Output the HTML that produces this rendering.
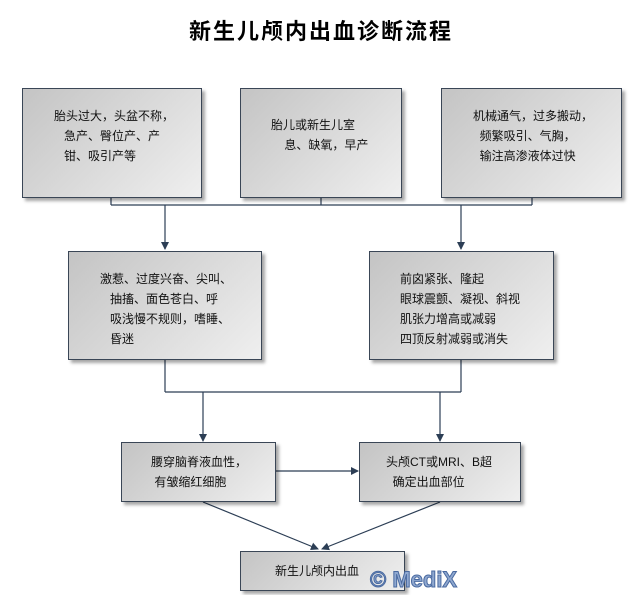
<!DOCTYPE html>
<html><head><meta charset="utf-8"><style>
body{margin:0;width:642px;height:595px;background:#fff;position:relative;overflow:hidden;font-family:"Liberation Sans","Noto Sans CJK SC",sans-serif;}
.t{position:absolute;left:0;width:642px;top:14px;text-align:center;font-size:22px;font-weight:bold;letter-spacing:2px;color:#000;}
.b{position:absolute;box-sizing:border-box;border:1px solid #3a4656;background:linear-gradient(135deg,#c4c4c4,#efefef);box-shadow:3px 3px 3px rgba(0,0,0,.35);font-size:12px;line-height:20px;color:#111;}
.b div{position:absolute;white-space:pre;}
svg{position:absolute;left:0;top:0;}
.w{position:absolute;left:370px;top:567px;font-size:22px;font-weight:bold;color:#8fa8d0;-webkit-text-stroke:1px #4a6aa0;font-family:"Liberation Sans",sans-serif;}
</style></head><body>
<div class="t">新生儿颅内出血诊断流程</div>
<svg width="642" height="595">
<defs><marker id="a" markerWidth="8" markerHeight="10" refX="7" refY="5" orient="auto" markerUnits="userSpaceOnUse"><path d="M0,1 L8,5 L0,9 Z" fill="#2c3e55"/></marker></defs>
<g stroke="#2c3e55" stroke-width="1.2" fill="none">
<path d="M111 198V205M321 198V205M532 198V205M111 205H532"/>
<path d="M165 205V249" marker-end="url(#a)"/>
<path d="M461 205V249" marker-end="url(#a)"/>
<path d="M165 360V392M461 360V392M165 392H461"/>
<path d="M203 392V441" marker-end="url(#a)"/>
<path d="M440 392V441" marker-end="url(#a)"/>
<path d="M276 471H358" marker-end="url(#a)"/>
<path d="M203 502L318 549" marker-end="url(#a)"/>
<path d="M440 502L322 549" marker-end="url(#a)"/>
</g></svg>
<div class="b" style="left:22px;top:88px;width:180px;height:110px"><div style="left:31px;top:17px">胎头过大，头盆不称，
   急产、臀位产、产
   钳、吸引产等</div></div>
<div class="b" style="left:240px;top:88px;width:162px;height:110px"><div style="left:30px;top:26px">胎儿或新生儿室
    息、缺氧，早产</div></div>
<div class="b" style="left:441px;top:88px;width:181px;height:110px"><div style="left:31px;top:17px">机械通气，过多搬动，
  频繁吸引、气胸，
  输注高渗液体过快</div></div>
<div class="b" style="left:68px;top:251px;width:194px;height:109px"><div style="left:31px;top:17px">激惹、过度兴奋、尖叫、
   抽搐、面色苍白、呼
   吸浅慢不规则，嗜睡、
   昏迷</div></div>
<div class="b" style="left:369px;top:251px;width:185px;height:109px"><div style="left:30px;top:17px">前囟紧张、隆起
眼球震颤、凝视、斜视
肌张力增高或减弱
四顶反射减弱或消失</div></div>
<div class="b" style="left:121px;top:442px;width:155px;height:60px"><div style="left:29px;top:9px">腰穿脑脊液血性，
 有皱缩红细胞</div></div>
<div class="b" style="left:359px;top:442px;width:162px;height:60px"><div style="left:26px;top:9px">头颅CT或MRI、B超
  确定出血部位</div></div>
<div class="b" style="left:240px;top:551px;width:165px;height:40px"><div style="left:34px;top:9px">新生儿颅内出血</div></div>
<div class="w">© MediX</div>
</body></html>
